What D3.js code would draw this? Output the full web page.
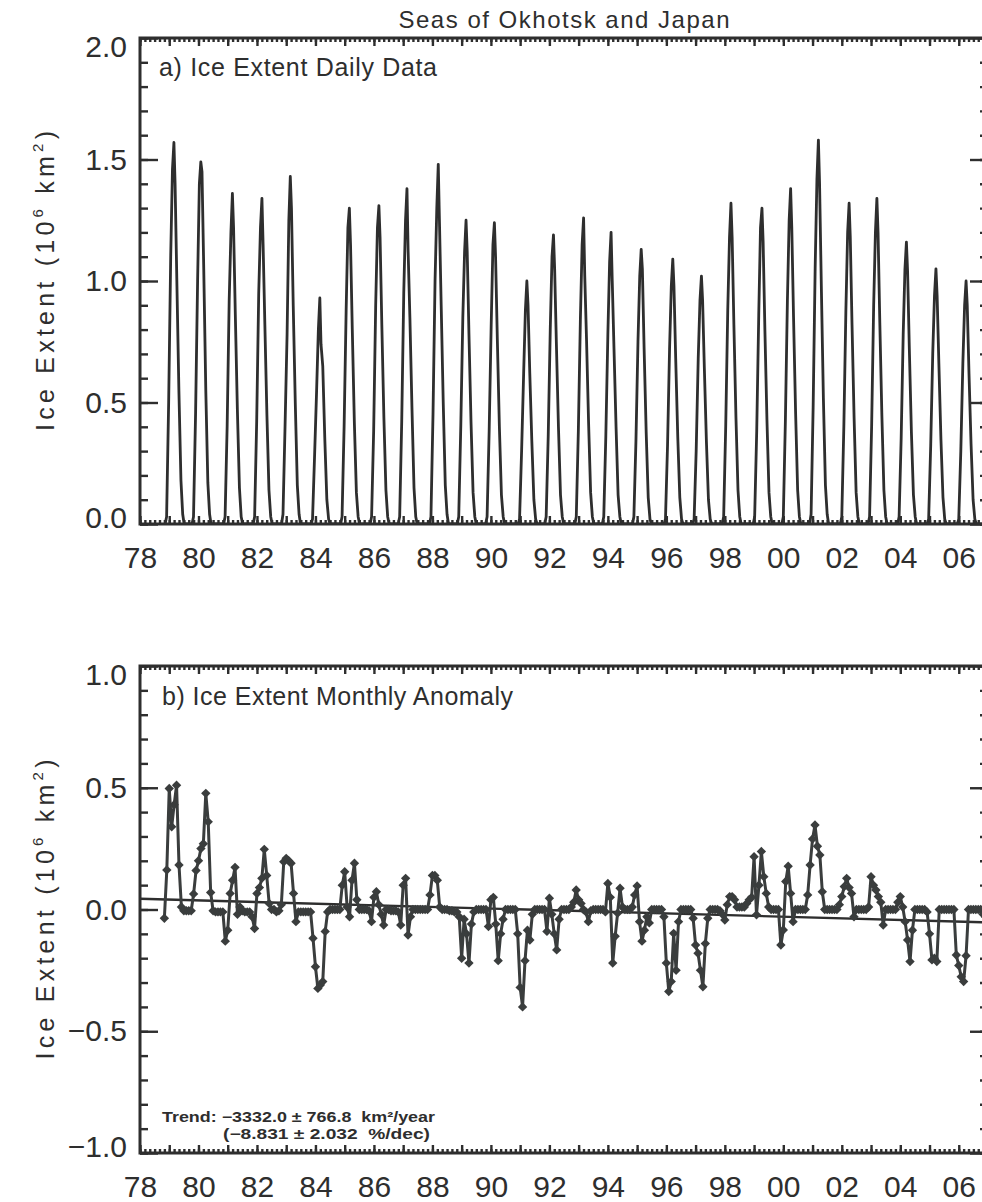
<html>
    <head>
        <meta charset="utf-8">
        <title>Seas of Okhotsk and Japan</title>
        <style>
            body { margin: 0; background: #fff; }
            text { font-family: "Liberation Sans", Arial, sans-serif; fill: #2e2e2e; }
        </style>
    </head>
    <body>
        <svg id="container" width="982" height="1202"></svg>
    </body>
    <script src="https://d3js.org/d3.v7.min.js"></script>
    <script>
        // a) daily extent: one spike per winter, points read at fixed offsets (years) around each peak
        let seasonPeaks = [1979.16, 1980.08, 1981.16, 1982.17, 1983.14, 1984.15, 1985.16, 1986.17,
                           1987.13, 1988.20, 1989.15, 1990.12, 1991.23, 1992.14, 1993.17, 1994.11,
                           1995.14, 1996.22, 1997.20, 1998.21, 1999.27, 2000.25, 2001.20, 2002.25,
                           2003.20, 2004.21, 2005.22, 2006.25]
        let seasonOffsets = [-0.30, -0.25, -0.18, -0.11, -0.05, 0, 0.04, 0.10, 0.17, 0.24, 0.30, 0.35]
        let seasonValues = [
            [0, 0.03, 0.50, 1.10, 1.46, 1.57, 1.40, 1.00, 0.55, 0.18, 0.04, 0],
            [0, 0.03, 0.45, 1.00, 1.40, 1.49, 1.45, 1.05, 0.55, 0.17, 0.04, 0],
            [0, 0.03, 0.40, 0.92, 1.20, 1.36, 1.22, 0.86, 0.47, 0.15, 0.03, 0],
            [0, 0.03, 0.42, 0.95, 1.22, 1.34, 1.15, 0.82, 0.45, 0.14, 0.03, 0],
            [0, 0.04, 0.40, 0.78, 1.25, 1.43, 1.30, 0.90, 0.50, 0.16, 0.04, 0],
            [0, 0.02, 0.28, 0.55, 0.80, 0.93, 0.74, 0.65, 0.35, 0.10, 0.02, 0],
            [0, 0.03, 0.40, 0.88, 1.22, 1.30, 1.15, 0.80, 0.42, 0.13, 0.03, 0],
            [0, 0.03, 0.38, 0.90, 1.22, 1.31, 1.18, 0.82, 0.44, 0.14, 0.03, 0],
            [0, 0.03, 0.42, 0.95, 1.25, 1.38, 1.12, 0.85, 0.48, 0.15, 0.03, 0],
            [0, 0.03, 0.45, 1.00, 1.30, 1.48, 1.25, 0.90, 0.50, 0.16, 0.04, 0],
            [0, 0.03, 0.40, 0.85, 1.12, 1.25, 1.12, 0.78, 0.42, 0.13, 0.03, 0],
            [0, 0.03, 0.38, 0.82, 1.15, 1.24, 1.10, 0.76, 0.40, 0.12, 0.03, 0],
            [0, 0.02, 0.30, 0.62, 0.88, 1.00, 0.90, 0.62, 0.34, 0.10, 0.02, 0],
            [0, 0.03, 0.36, 0.80, 1.10, 1.19, 1.05, 0.74, 0.40, 0.12, 0.03, 0],
            [0, 0.03, 0.38, 0.84, 1.15, 1.26, 1.02, 0.76, 0.42, 0.13, 0.03, 0],
            [0, 0.03, 0.36, 0.78, 1.08, 1.20, 1.00, 0.72, 0.40, 0.12, 0.03, 0],
            [0, 0.03, 0.34, 0.75, 1.02, 1.13, 1.05, 0.72, 0.38, 0.11, 0.02, 0],
            [0, 0.02, 0.32, 0.72, 0.98, 1.09, 0.98, 0.68, 0.36, 0.11, 0.02, 0],
            [0, 0.02, 0.30, 0.68, 0.92, 1.02, 0.92, 0.64, 0.34, 0.10, 0.02, 0],
            [0, 0.03, 0.40, 0.88, 1.18, 1.32, 1.18, 0.82, 0.44, 0.14, 0.03, 0],
            [0, 0.03, 0.38, 0.86, 1.22, 1.30, 1.16, 0.80, 0.43, 0.13, 0.03, 0],
            [0, 0.03, 0.42, 0.92, 1.25, 1.38, 1.22, 0.85, 0.46, 0.14, 0.03, 0],
            [0, 0.04, 0.48, 1.06, 1.42, 1.58, 1.40, 0.98, 0.52, 0.16, 0.04, 0],
            [0, 0.03, 0.40, 0.88, 1.20, 1.32, 1.18, 0.82, 0.44, 0.13, 0.03, 0],
            [0, 0.03, 0.40, 0.90, 1.20, 1.34, 1.20, 0.83, 0.45, 0.14, 0.03, 0],
            [0, 0.03, 0.35, 0.78, 1.05, 1.16, 1.04, 0.72, 0.38, 0.12, 0.03, 0],
            [0, 0.02, 0.32, 0.70, 0.94, 1.05, 0.94, 0.66, 0.35, 0.11, 0.02, 0],
            [0, 0.02, 0.30, 0.66, 0.90, 1.00, 0.90, 0.62, 0.33, 0.10, 0.02, 0]
        ]
        let dailyStart = 1978.82
        let dailyEnd = 2007

        // b) monthly anomaly, Jan..Dec of each year (null = no data)
        let anomalyYears = [1978, 1979, 1980, 1981, 1982, 1983, 1984, 1985, 1986, 1987, 1988, 1989, 1990, 1991, 1992,
                            1993, 1994, 1995, 1996, 1997, 1998, 1999, 2000, 2001, 2002, 2003, 2004, 2005, 2006]
        let anomalyValues = [
            [null, null, null, null, null, null, null, null, null, null, -0.036, 0.162],
            [0.497, 0.34, 0.43, 0.51, 0.183, 0.01, -0.005, -0.005, -0.005, -0.005, 0.064, 0.16],
            [0.2, 0.25, 0.27, 0.477, 0.36, 0.07, -0.005, -0.01, -0.01, -0.01, -0.01, -0.13],
            [-0.085, 0.066, 0.12, 0.173, -0.02, 0.01, -0.005, -0.01, -0.01, -0.01, -0.03, -0.078],
            [0.066, 0.09, 0.128, 0.247, 0.14, 0.025, 0, 0, -0.01, -0.005, 0.02, 0.196],
            [0.21, 0.2, 0.19, 0.066, -0.05, -0.01, -0.01, -0.01, -0.01, -0.01, -0.01, -0.118],
            [-0.235, -0.324, -0.31, -0.296, -0.09, -0.01, 0, 0, 0, 0, 0, 0.1],
            [0.155, 0.01, -0.03, 0.12, 0.19, 0.04, 0, 0, 0, 0, -0.005, -0.05],
            [0.05, 0.073, 0.02, -0.02, -0.064, 0, 0, -0.005, -0.005, -0.005, -0.01, -0.064],
            [0.1, 0.128, -0.105, -0.03, 0, 0, 0, 0, 0, 0, 0, 0.06],
            [0.14, 0.14, 0.12, 0.01, 0, 0, 0, -0.005, -0.005, -0.01, -0.01, -0.03],
            [-0.2, -0.04, -0.1, -0.22, -0.06, -0.01, 0, 0, 0, 0, 0, -0.07],
            [0.04, 0.05, -0.06, -0.21, -0.1, -0.04, 0, 0, 0, 0, 0, -0.1],
            [-0.32, -0.4, -0.21, -0.085, -0.125, -0.02, 0, 0, 0, 0, 0, -0.09],
            [0.046, -0.02, -0.1, -0.166, -0.04, 0, 0, 0, 0, 0.01, 0.03, 0.08],
            [0.04, 0.025, 0, -0.01, -0.05, -0.005, 0, 0, 0, 0, 0, -0.01],
            [0.107, 0.05, -0.22, -0.11, -0.015, 0.087, 0.01, 0, 0, 0, 0.01, 0.06],
            [0.097, -0.05, -0.13, -0.085, -0.03, -0.055, 0, 0, 0, 0, 0, -0.03],
            [-0.22, -0.337, -0.296, -0.098, -0.25, -0.05, 0, 0, 0, 0, 0, -0.036],
            [-0.146, -0.18, -0.25, -0.317, -0.14, -0.036, 0, 0, 0, 0, -0.005, -0.02],
            [-0.043, 0.02, 0.053, 0.053, 0.04, 0.01, 0.01, 0.01, 0.01, 0.025, 0.04, 0.05],
            [0.217, -0.022, 0.1, 0.238, 0.135, 0.066, 0.01, 0, 0, 0, 0, -0.146],
            [-0.084, 0.115, 0.178, 0.066, -0.05, 0, 0, 0, 0, 0, 0.06, 0.183],
            [0.29, 0.347, 0.26, 0.224, 0.073, 0, 0, 0, 0, 0, 0, 0.02],
            [0.053, 0.094, 0.128, 0.09, 0.066, -0.03, 0, 0, 0, 0, 0, 0.01],
            [0.135, 0.1, 0.08, 0.053, 0.03, -0.064, 0, 0, 0, 0, 0, 0.03],
            [0.053, 0.01, -0.05, -0.125, -0.214, -0.085, 0, 0, 0, 0, 0, -0.01],
            [-0.1, -0.207, -0.2, -0.214, 0, 0, 0, 0, 0, 0, 0, -0.187],
            [-0.23, -0.276, -0.296, -0.19, 0, 0, 0, 0, 0, 0, -0.02, -0.03]
        ]
        let trendLine = [[1978, 0.044], [2007, -0.053]]
        let trendLabel = ["Trend: \u22123332.0 \u00b1 766.8  km\u00b2/year", "(\u22128.831 \u00b1 2.032  %/dec)"]

        let container = d3.select("#container")
        let x = d3.scaleLinear().domain([1978, 2007]).range([140, 988])
        let yTop = d3.scaleLinear().domain([0, 2]).range([524, 38])
        let yBot = d3.scaleLinear().domain([-1, 1]).range([1153, 666])

        let ink = "#2e2e2e"
        let yearMajor = d3.range(1978, 2008)
        let yearMinor = d3.range(1978, 2007.01, 1 / 6)
        let yearLabels = d3.range(1978, 2007, 2)

        function styleAxis(g, size) {
            g.select(".domain").remove()
            g.attr("color", ink).attr("font-size", size)
            g.selectAll("line").attr("stroke-width", 2.4)
        }

        function drawFrame(y, lo, hi, name) {
            let [top, bottom] = [y(hi), y(lo)]
            let minors = d3.range(lo, hi + 0.001, 0.1).map(d => +d.toFixed(1))
            let majors = d3.range(lo, hi + 0.001, 0.5).map(d => +d.toFixed(1))

            container.append("g").attr("transform", "translate(140,0)")
                .call(d3.axisLeft(y).tickValues(minors).tickSize(-8).tickFormat(""))
                .call(styleAxis, 30)
            container.append("g").attr("transform", "translate(140,0)")
                .call(d3.axisLeft(y).tickValues(majors).tickSize(-18).tickPadding(13).tickFormat(d3.format(".1f")))
                .call(styleAxis, 30)
                .selectAll("text").attr("dy", d => d === hi ? "0.6em" : d === lo ? "0.1em" : "0.32em")
            container.append("g").attr("transform", "translate(988,0)")
                .call(d3.axisRight(y).tickValues(minors).tickSize(-8).tickFormat(""))
                .call(styleAxis, 30)
            container.append("g").attr("transform", "translate(988,0)")
                .call(d3.axisRight(y).tickValues(majors).tickSize(-18).tickFormat(""))
                .call(styleAxis, 30)

            container.append("g").attr("transform", `translate(0,${bottom})`)
                .call(d3.axisBottom(x).tickValues(yearMinor).tickSize(-4).tickFormat(""))
                .call(styleAxis, 30)
            container.append("g").attr("transform", `translate(0,${bottom})`)
                .call(d3.axisBottom(x).tickValues(yearMajor).tickSize(-8).tickFormat(""))
                .call(styleAxis, 30)
            container.append("g").attr("transform", `translate(0,${bottom})`)
                .call(d3.axisBottom(x).tickValues(yearLabels).tickSize(0).tickPadding(23)
                    .tickFormat(d => d3.format("02d")(d % 100)))
                .call(styleAxis, 30)
            container.append("g").attr("transform", `translate(0,${top})`)
                .call(d3.axisTop(x).tickValues(yearMinor).tickSize(-4).tickFormat(""))
                .call(styleAxis, 30)
            container.append("g").attr("transform", `translate(0,${top})`)
                .call(d3.axisTop(x).tickValues(yearMajor).tickSize(-8).tickFormat(""))
                .call(styleAxis, 30)

            container.append("clipPath").attr("id", name)
                .append("rect").attr("x", x(1978)).attr("y", top)
                .attr("width", x(2007) - x(1978)).attr("height", bottom - top)

            container.append("rect")
                .attr("x", x(1978)).attr("y", top)
                .attr("width", x(2007) - x(1978)).attr("height", bottom - top)
                .attr("fill", "none").attr("stroke", ink).attr("stroke-width", 3)

            let title = container.append("text")
                .attr("transform", `translate(54,${(top + bottom) / 2}) rotate(-90)`)
                .attr("text-anchor", "middle").attr("font-size", 25)
                .attr("textLength", 300).attr("lengthAdjust", "spacing")
            title.append("tspan").text("Ice Extent (10")
            title.append("tspan").attr("font-size", 15).attr("dy", -11).text("6")
            title.append("tspan").attr("dy", 11).text(" km")
            title.append("tspan").attr("font-size", 15).attr("dy", -11).text("2")
            title.append("tspan").attr("dy", 11).text(")")
        }

        // panel a
        drawFrame(yTop, 0, 2, "clipA")
        let daily = [[dailyStart, 0]]
        seasonPeaks.forEach((p, i) => seasonOffsets.forEach((o, j) => daily.push([p + o, seasonValues[i][j]])))
        daily.push([dailyEnd, 0])

        container.append("path")
            .datum(daily)
            .attr("clip-path", "url(#clipA)")
            .attr("fill", "none").attr("stroke", ink).attr("stroke-width", 2.8)
            .attr("stroke-linejoin", "round")
            .attr("d", d3.line().x(d => x(d[0])).y(d => yTop(d[1])))

        container.append("text").attr("x", 564).attr("y", 28).attr("text-anchor", "middle")
            .attr("font-size", 24).attr("textLength", 331).attr("lengthAdjust", "spacing")
            .text("Seas of Okhotsk and Japan")
        container.append("text").attr("x", 159).attr("y", 76)
            .attr("font-size", 25).attr("textLength", 278).attr("lengthAdjust", "spacing")
            .text("a) Ice Extent Daily Data")

        // panel b
        drawFrame(yBot, -1, 1, "clipB")
        let monthly = []
        anomalyYears.forEach((yr, i) => anomalyValues[i].forEach((v, m) => {
            if (v !== null) monthly.push([yr + m / 12, v])
        }))

        let plotB = container.append("g").attr("clip-path", "url(#clipB)")
        plotB.append("path")
            .datum(trendLine)
            .attr("fill", "none").attr("stroke", ink).attr("stroke-width", 2.4)
            .attr("d", d3.line().x(d => x(d[0])).y(d => yBot(d[1])))
        plotB.append("path")
            .datum(monthly)
            .attr("fill", "none").attr("stroke", "#3a3d3d").attr("stroke-width", 3)
            .attr("stroke-linejoin", "round")
            .attr("d", d3.line().x(d => x(d[0])).y(d => yBot(d[1])))
        plotB.selectAll(".mark")
            .data(monthly)
            .enter()
            .append("path")
            .attr("class", "mark")
            .attr("d", d3.symbol(d3.symbolSquare).size(44))
            .attr("transform", d => `translate(${x(d[0])},${yBot(d[1])}) rotate(45)`)
            .attr("fill", "#3a3d3d")

        container.append("text").attr("x", 162).attr("y", 705)
            .attr("font-size", 25).attr("textLength", 351).attr("lengthAdjust", "spacing")
            .text("b) Ice Extent Monthly Anomaly")

        container.selectAll(".trend")
            .data(trendLabel)
            .enter()
            .append("text")
            .attr("class", "trend")
            .attr("x", (d, i) => i === 0 ? 162 : 223)
            .attr("y", (d, i) => i === 0 ? 1122 : 1139)
            .attr("font-size", 14).attr("font-weight", "bold")
            .attr("textLength", (d, i) => i === 0 ? 273 : 207).attr("lengthAdjust", "spacingAndGlyphs")
            .style("white-space", "pre")
            .text(d => d)
    </script>
</html>
